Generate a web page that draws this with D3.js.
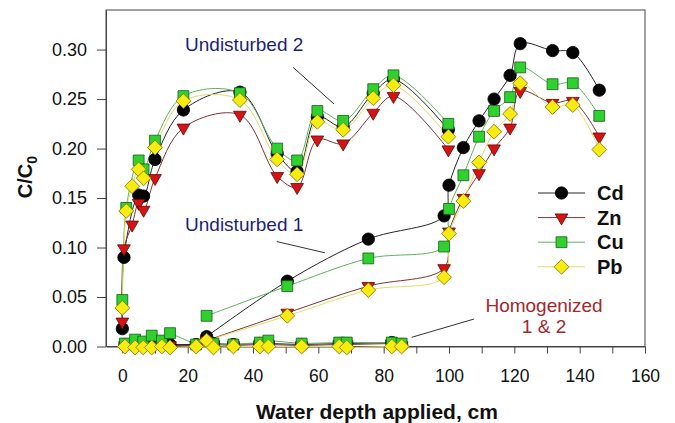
<!DOCTYPE html>
<html>
<head>
<meta charset="utf-8">
<script src="https://cdn.jsdelivr.net/npm/d3@7"></script>
<style>
  body { margin: 0; background: #fff; }
  svg { font-family: "Liberation Sans", Arial, sans-serif; }
</style>
</head>
<body>
<svg id="chart" width="675" height="423"></svg>
<script>
// values (C/C0 vs water depth, cm)
const metals = ["Cd", "Zn", "Cu", "Pb"];

// Undisturbed 2
const depthU2 = [0, 0.5, 1.2, 3, 5, 6.5, 10, 18.7, 36, 47.4, 53.5, 59.7, 67.6, 76.8, 83, 99.8];
const cdU2 = [0.018, 0.090, null, null, 0.153, 0.152, 0.189, 0.239, 0.257, 0.195, 0.177, 0.232, 0.222, 0.256, 0.270, 0.219];
const znU2 = [0.025, 0.099, null, 0.123, 0.145, 0.138, 0.170, 0.221, 0.234, 0.172, 0.161, 0.209, 0.205, 0.236, 0.253, 0.199];
const cuU2 = [0.047, null, 0.140, null, 0.188, 0.179, 0.208, 0.253, 0.256, 0.200, 0.188, 0.238, 0.228, 0.260, 0.274, 0.225];
const pbU2 = [0.039, null, 0.137, 0.162, 0.179, 0.170, 0.201, 0.248, 0.249, 0.189, 0.174, 0.227, 0.219, 0.251, 0.264, 0.212];

// Undisturbed 1
const depthU1 = [25.8, 50.5, 75.3, 98.5, 100, 104.4, 109.2, 113.8, 118.7, 121.8, 131.7, 137.9, 146];
const cdU1 = [0.010, 0.066, 0.1085, 0.132, 0.163, 0.201, 0.228, 0.250, 0.274, 0.306, 0.299, 0.297, 0.259];
const znU1 = [0.006, 0.034, 0.061, 0.079, 0.116, 0.150, 0.175, 0.200, 0.221, 0.258, 0.246, 0.248, 0.212];
const cuU1 = [0.031, 0.061, 0.089, 0.101, 0.139, 0.173, 0.212, 0.238, 0.252, 0.282, 0.265, 0.266, 0.233];
const pbU1 = [0.006, 0.031, 0.057, 0.070, 0.114, 0.147, 0.186, 0.217, 0.235, 0.266, 0.242, 0.244, 0.199];

// Homogenized 1 & 2
const depthH = [0.8, 3.9, 6.4, 9, 12.1, 14.6, 22.6, 27.9, 34, 42.1, 44.7, 54.9, 66.4, 68.7, 82.5, 85.5];
const cdH = [0.002, 0.002, 0.002, 0.002, 0.002, 0.002, 0.002, 0.003, 0.002, 0.003, 0.003, 0.002, 0.003, 0.003, 0.004, 0.002];
const znH = [0.001, 0.001, 0.001, 0.001, 0.001, 0.001, 0.001, 0.002, 0.001, 0.002, 0.002, 0.001, 0.002, 0.002, 0.003, 0.001];
const cuH = [0.003, 0.007, 0.005, 0.011, 0.006, 0.0135, 0.002, 0.003, 0.002, 0.004, 0.006, 0.003, 0.004, 0.004, 0.004, 0.003];
const pbH = [0, -0.001, -0.001, -0.001, 0, -0.001, 0, -0.001, 0, 0, 0, 0, 0, -0.001, 0, 0];

const xTicks = d3.range(0, 161, 10);
const yTicks = [0, 0.05, 0.10, 0.15, 0.20, 0.25, 0.30];

const groups = [
    { depth: depthU2, values: { Cd: cdU2, Zn: znU2, Cu: cuU2, Pb: pbU2 }, curve: d3.curveCatmullRom.alpha(0.5) },
    { depth: depthU1, values: { Cd: cdU1, Zn: znU1, Cu: cuU1, Pb: pbU1 }, curve: d3.curveCatmullRom.alpha(0.5) },
    { depth: depthH, values: { Cd: cdH, Zn: znH, Cu: cuH, Pb: pbH }, curve: d3.curveLinear }
];

const style = {
    Cd: { fill: "#050505", stroke: "#000", line: "#262626", symbol: d3.symbolCircle, size: 120, rotate: 0 },
    Zn: { fill: "#d81212", stroke: "#5a0a0a", line: "#7d3434", symbol: d3.symbolTriangle, size: 70, rotate: 180 },
    Cu: { fill: "#2fd12f", stroke: "#1b5a1b", line: "#5cb45c", symbol: d3.symbolSquare, size: 118, rotate: 0 },
    Pb: { fill: "#f7ec12", stroke: "#857600", line: "#e4da6a", symbol: d3.symbolSquare, size: 110, rotate: 45 }
};

const svg = d3.select("#chart");
const x = d3.scaleLinear().domain([-5, 160]).range([106, 645]);
const y = d3.scaleLinear().domain([0, 0.34]).range([346.5, 10]);

// frame
svg.append("rect")
    .attr("x", x(-5)).attr("y", y(0.34))
    .attr("width", x(160) - x(-5)).attr("height", y(0) - y(0.34))
    .attr("fill", "none").attr("stroke", "#444").attr("stroke-width", 1);

// x axis
svg.append("g")
    .attr("transform", `translate(0,${y(0)})`)
    .call(d3.axisBottom(x)
        .tickValues(xTicks)
        .tickFormat(d => d % 20 === 0 ? d : "")
        .tickSize(7)
        .tickSizeOuter(0)
        .tickPadding(16))
    .call(g => g.select(".domain").attr("stroke", "#444"))
    .call(g => g.selectAll("line").attr("stroke", "#444"))
    .selectAll("text")
    .style("font-size", "17.5px")
    .attr("fill", "#111");

// y axis
svg.append("g")
    .attr("transform", `translate(${x(-5)},0)`)
    .call(d3.axisLeft(y)
        .tickValues(yTicks)
        .tickFormat(d3.format(".2f"))
        .tickSize(9)
        .tickSizeOuter(0)
        .tickPadding(10))
    .call(g => g.select(".domain").attr("stroke", "#444"))
    .call(g => g.selectAll("line").attr("stroke", "#444"))
    .selectAll("text")
    .style("font-size", "18px")
    .attr("fill", "#111");

// axis titles
svg.append("text")
    .attr("x", 377).attr("y", 419)
    .attr("text-anchor", "middle")
    .style("font-size", "21px").style("font-weight", "bold")
    .attr("fill", "#111")
    .text("Water depth applied, cm");

const yTitle = svg.append("text")
    .attr("transform", "translate(32,177) rotate(-90)")
    .attr("text-anchor", "middle")
    .style("font-size", "20px").style("font-weight", "bold")
    .attr("fill", "#111");
yTitle.append("tspan").text("C/C");
yTitle.append("tspan").attr("dy", 5).style("font-size", "14px").text("0");

// lines
const plot = svg.append("g");
groups.forEach(grp => {
    metals.forEach(m => {
        const pts = grp.depth.map((d, i) => [d, grp.values[m][i]]).filter(p => p[1] !== null);
        plot.append("path")
            .datum(pts)
            .attr("fill", "none")
            .attr("stroke", style[m].line)
            .attr("stroke-width", 1)
            .attr("d", d3.line().x(p => x(p[0])).y(p => y(p[1])).curve(grp.curve));
    });
});

// markers, Pb drawn last so it sits on top
metals.forEach(m => {
    const s = style[m];
    const pts = [];
    groups.forEach(grp => grp.depth.forEach((d, i) => {
        if (grp.values[m][i] !== null) pts.push([d, grp.values[m][i]]);
    }));
    plot.append("g")
        .selectAll("path")
        .data(pts)
        .join("path")
        .attr("transform", p => `translate(${x(p[0])},${y(p[1])}) rotate(${s.rotate})`)
        .attr("d", d3.symbol(s.symbol, s.size))
        .attr("fill", s.fill)
        .attr("stroke", s.stroke)
        .attr("stroke-width", 0.8);
});

// annotations
const notes = svg.append("g").style("font-size", "19px");
notes.append("text").attr("x", x(19.2)).attr("y", y(0.2984)).attr("fill", "#1d1f78").text("Undisturbed 2");
notes.append("text").attr("x", x(19.2)).attr("y", y(0.1166)).attr("fill", "#1d1f78").text("Undisturbed 1");
notes.append("text").attr("x", x(129.1)).attr("y", y(0.0345)).attr("text-anchor", "middle").attr("fill", "#a3282b").text("Homogenized");
notes.append("text").attr("x", x(129.1)).attr("y", y(0.0138)).attr("text-anchor", "middle").attr("fill", "#a3282b").text("1 & 2");

const leader = (x1, y1, x2, y2) => svg.append("line")
    .attr("x1", x(x1)).attr("y1", y(y1)).attr("x2", x(x2)).attr("y2", y(y2))
    .attr("stroke", "#333").attr("stroke-width", 1);
leader(52.3, 0.282, 64.8, 0.245);
leader(47.3, 0.106, 62.0, 0.0947);
leader(88.6, 0.0093, 107.7, 0.0278);

// legend
const legend = svg.append("g")
    .selectAll("g")
    .data(metals)
    .join("g")
    .attr("transform", (d, i) => `translate(538,${193 + i * 24.6})`);
legend.append("line")
    .attr("x1", 0).attr("x2", 47)
    .attr("stroke", d => style[d].line).attr("stroke-width", 1);
legend.append("path")
    .attr("transform", d => `translate(23.5,0) rotate(${style[d].rotate})`)
    .attr("d", d => d3.symbol(style[d].symbol, style[d].size)())
    .attr("fill", d => style[d].fill)
    .attr("stroke", d => style[d].stroke)
    .attr("stroke-width", 0.8);
legend.append("text")
    .attr("x", 59).attr("y", 7)
    .style("font-size", "20px").style("font-weight", "bold")
    .attr("fill", "#111")
    .text(d => d);
</script>
</body>
</html>
